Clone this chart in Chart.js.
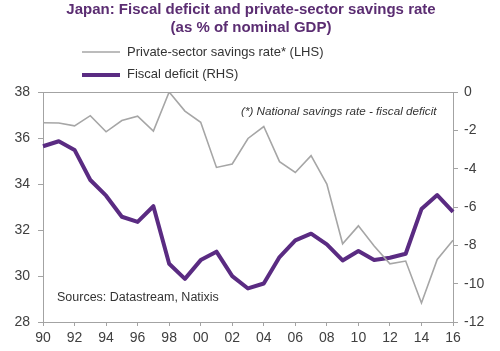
<!DOCTYPE html>
<html>
<head>
<meta charset="utf-8">
<script src="https://cdn.jsdelivr.net/npm/chart.js@4.4.0/dist/chart.umd.min.js"></script>
<style>
  html, body { margin: 0; padding: 0; background: #ffffff; }
  #wrap { width: 500px; height: 351px; position: relative; }
</style>
</head>
<body>
<div id="wrap"><canvas id="chartJapon" width="500" height="351"></canvas></div>
<script>
const years = ['90','91','92','93','94','95','96','97','98','99','00','01','02','03',
               '04','05','06','07','08','09','10','11','12','13','14','15','16'];

// private-sector savings rate, % of GDP (LHS)
const privateSavings = [36.66, 36.65, 36.53, 36.97, 36.27, 36.76, 36.95, 36.3, 38.0, 37.17,
                        36.68, 34.72, 34.87, 35.98, 36.5, 34.97, 34.5, 35.23, 34.0, 31.4,
                        32.18, 31.3, 30.53, 30.65, 28.83, 30.72, 31.55];

// fiscal deficit, % of GDP (RHS)
const fiscalDeficit = [-2.83, -2.57, -3.02, -4.59, -5.41, -6.51, -6.78, -5.96, -8.96, -9.75,
                       -8.77, -8.33, -9.61, -10.25, -9.99, -8.61, -7.74, -7.39, -7.95, -8.79,
                       -8.3, -8.77, -8.65, -8.44, -6.11, -5.38, -6.25];

const leftTicks = [28, 30, 32, 34, 36, 38];
const rightTicks = [-12, -10, -8, -6, -4, -2, 0];

const GRIS = '#a6a6a6';
const MORADO = '#5a2b82';
const EJE = '#a3a3a3';
const TEXTO = '#404040';

const extras = {
    id: 'extras',
    afterDraw(chart) {
        const ctx = chart.ctx;
        const area = chart.chartArea;
        ctx.save();

        // top border of the plot box
        ctx.strokeStyle = EJE;
        ctx.lineWidth = 1;
        ctx.beginPath();
        ctx.moveTo(area.left, area.top + 0.5);
        ctx.lineTo(area.right, area.top + 0.5);
        ctx.stroke();

        // title
        ctx.fillStyle = '#5b2d72';
        ctx.font = 'bold 15px "Liberation Sans", Arial, sans-serif';
        ctx.textAlign = 'center';
        ctx.textBaseline = 'middle';
        ctx.fillText('Japan: Fiscal deficit and private-sector savings rate', 251, 10);
        ctx.fillText('(as % of nominal GDP)', 251, 28);

        // legend
        ctx.textAlign = 'left';
        ctx.font = '13px "Liberation Sans", Arial, sans-serif';
        ctx.fillStyle = '#333333';
        ctx.strokeStyle = GRIS;
        ctx.lineWidth = 1.5;
        ctx.beginPath();
        ctx.moveTo(82, 52);
        ctx.lineTo(120, 52);
        ctx.stroke();
        ctx.fillText(chart.data.datasets[0].label, 127, 52);

        ctx.strokeStyle = MORADO;
        ctx.lineWidth = 4;
        ctx.beginPath();
        ctx.moveTo(82, 75);
        ctx.lineTo(120, 75);
        ctx.stroke();
        ctx.fillText(chart.data.datasets[1].label, 127, 74);

        // notes
        ctx.fillStyle = '#333333';
        ctx.font = 'italic 11.7px "Liberation Sans", Arial, sans-serif';
        ctx.fillText('(*) National savings rate - fiscal deficit', 241, 112);
        ctx.font = '12.5px "Liberation Sans", Arial, sans-serif';
        ctx.fillText('Sources: Datastream, Natixis', 57, 298);

        ctx.restore();
    }
};

const ctx = document.getElementById('chartJapon').getContext('2d');
new Chart(ctx, {
    type: 'line',
    data: {
        labels: years,
        datasets: [
            {
                label: 'Private-sector savings rate* (LHS)',
                data: privateSavings,
                yAxisID: 'y',
                borderColor: GRIS,
                borderWidth: 1.6,
                pointRadius: 0,
                tension: 0,
                fill: false
            },
            {
                label: 'Fiscal deficit (RHS)',
                data: fiscalDeficit,
                yAxisID: 'y2',
                borderColor: MORADO,
                borderWidth: 4,
                borderJoinStyle: 'round',
                pointRadius: 0,
                tension: 0,
                fill: false
            }
        ]
    },
    options: {
        responsive: false,
        devicePixelRatio: 1,
        animation: false,
        layout: { padding: { top: 92, left: 0, right: 0, bottom: 0 } },
        plugins: {
            legend: { display: false },
            tooltip: { enabled: false }
        },
        scales: {
            x: {
                type: 'category',
                offset: false,
                afterFit: scale => { scale.height = 29; },
                grid: {
                    drawOnChartArea: false,
                    tickLength: 4,
                    color: c => (c.index % 2 === 0 ? EJE : 'rgba(0,0,0,0)')
                },
                border: { color: EJE },
                ticks: {
                    autoSkip: false,
                    maxRotation: 0,
                    padding: 4,
                    color: TEXTO,
                    font: { size: 14, family: '"Liberation Sans", Arial, sans-serif' },
                    callback: (value, i) => (i % 2 === 0 ? years[i] : '')
                }
            },
            y: {
                position: 'left',
                min: leftTicks[0],
                max: leftTicks[leftTicks.length - 1],
                afterFit: scale => { scale.width = 43; },
                afterBuildTicks: scale => { scale.ticks = leftTicks.map(v => ({ value: v })); },
                grid: { drawOnChartArea: false, tickLength: 5, color: EJE },
                border: { color: EJE },
                ticks: {
                    padding: 8,
                    color: TEXTO,
                    font: { size: 14, family: '"Liberation Sans", Arial, sans-serif' }
                }
            },
            y2: {
                position: 'right',
                min: rightTicks[0],
                max: rightTicks[rightTicks.length - 1],
                afterFit: scale => { scale.width = 47; },
                afterBuildTicks: scale => { scale.ticks = rightTicks.map(v => ({ value: v })); },
                grid: { drawOnChartArea: false, tickLength: 5, color: EJE },
                border: { color: EJE },
                ticks: {
                    padding: 6,
                    color: TEXTO,
                    font: { size: 14, family: '"Liberation Sans", Arial, sans-serif' }
                }
            }
        }
    },
    plugins: [extras]
});
</script>
</body>
</html>
